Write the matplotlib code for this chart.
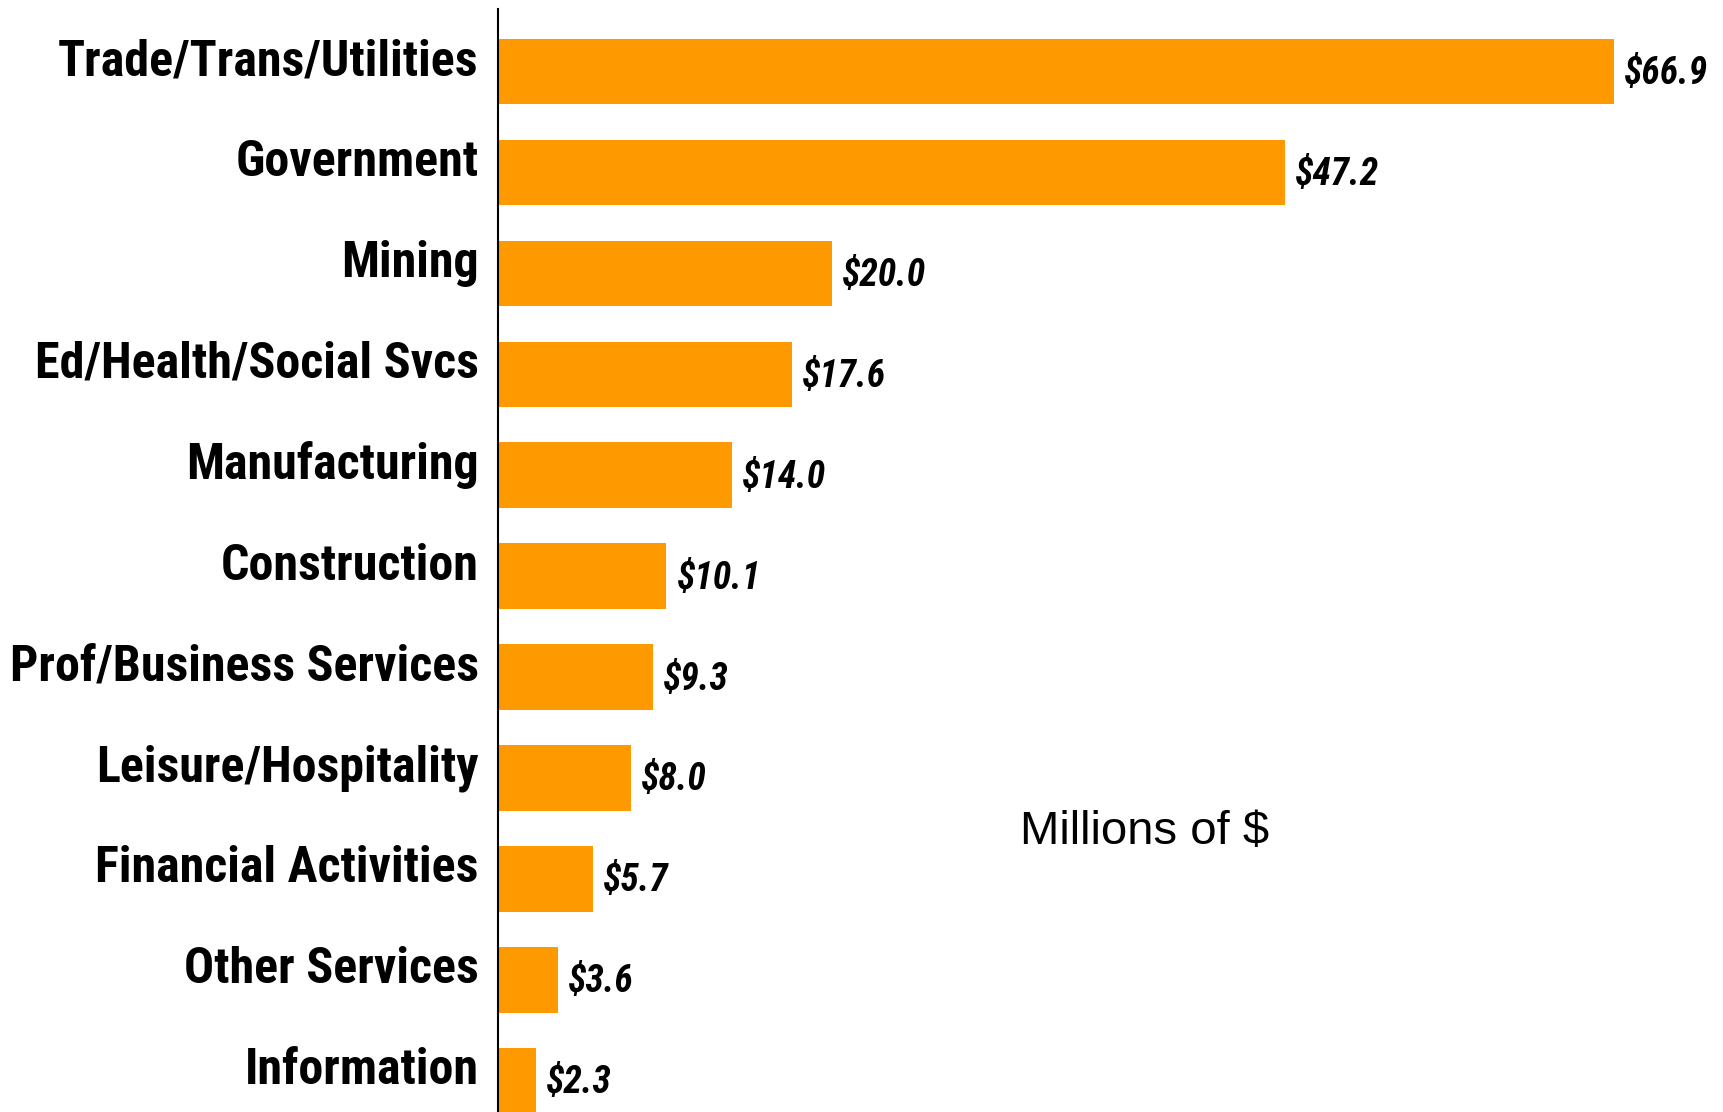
import matplotlib.pyplot as plt
from matplotlib.transforms import ScaledTranslation

categories = ['Trade/Trans/Utilities', 'Government', 'Mining', 'Ed/Health/Social Svcs',
              'Manufacturing', 'Construction', 'Prof/Business Services',
              'Leisure/Hospitality', 'Financial Activities', 'Other Services', 'Information']
values = [66.9, 47.2, 20.0, 17.6, 14.0, 10.1, 9.3, 8.0, 5.7, 3.6, 2.3]

fig = plt.figure(figsize=(17.24, 11.12), dpi=100)
ax = fig.add_axes([498 / 1724, 0.0, 1 - 498 / 1724, 1 - 9 / 1112])

ypos = list(range(len(categories)))
ax.barh(ypos, values, height=0.65, color='#FF9900')

ax.set_ylim(10.31, -0.62)
ax.set_xlim(0, 73.5)

ax.set_yticks(ypos)
ax.set_yticklabels(categories, fontsize=36, fontweight='bold',
                   family=['Roboto Condensed', 'Liberation Sans'])
ax.tick_params(axis='y', length=0, pad=14)
ax.set_xticks([])
# labels sit a bit above the bar centres
up = ScaledTranslation(0, 0.15, fig.dpi_scale_trans)
for lab in ax.get_yticklabels():
    lab.set_transform(lab.get_transform() + up)

for s in ['top', 'right', 'bottom']:
    ax.spines[s].set_visible(False)
ax.spines['left'].set_linewidth(1.5)
ax.spines['left'].set_color('black')

for y, v in zip(ypos, values):
    ax.text(v + 0.6, y + 0.02, f'${v:.1f}', va='center', ha='left',
            fontsize=27, fontweight='bold', fontstyle='italic',
            family=['Roboto Condensed', 'Liberation Sans'])

fig.text(0.664, 0.252, 'Millions of $', ha='center', va='center',
         fontsize=34, family='Liberation Sans')

fig.savefig('out.png', dpi=100)
